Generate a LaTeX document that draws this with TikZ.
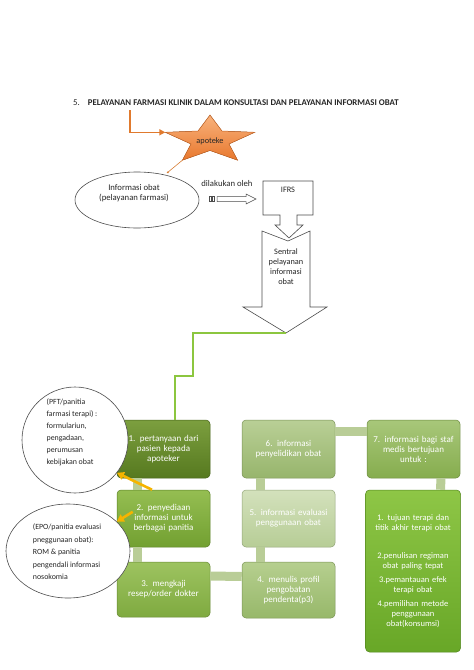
\documentclass[tikz,border=0pt]{standalone}
\usepackage{fontspec}
\setmainfont{Carlito}
\usepackage{tikz}
\usetikzlibrary{calc,arrows.meta,shapes.geometric}
\definecolor{ink}{HTML}{262626}
\definecolor{orangeline}{HTML}{E07A2E}
\definecolor{startop}{HTML}{F8B27C}
\definecolor{starbot}{HTML}{E8782E}
\definecolor{greenline}{HTML}{8CC63F}
\definecolor{yellowarr}{HTML}{F5B400}
\definecolor{barfill}{HTML}{B9CD97}
\definecolor{oneT}{HTML}{7C9F3F}\definecolor{oneB}{HTML}{56791F}
\definecolor{twoT}{HTML}{95BE52}\definecolor{twoB}{HTML}{72A031}
\definecolor{threeT}{HTML}{9DC360}\definecolor{threeB}{HTML}{7FAA40}
\definecolor{fourT}{HTML}{B6CF8F}\definecolor{fourB}{HTML}{97B86A}
\definecolor{fiveT}{HTML}{D3E1BC}\definecolor{fiveB}{HTML}{B7CD96}
\definecolor{sixT}{HTML}{B9CF96}\definecolor{sixB}{HTML}{97B56C}
\definecolor{sevenT}{HTML}{A8C77A}\definecolor{sevenB}{HTML}{86AD4E}
\definecolor{listT}{HTML}{8EC646}\definecolor{listB}{HTML}{68A727}
\tikzset{
  heading/.style={anchor=west, inner sep=0pt, text=ink, font=\fontsize{8.8}{10}\selectfont},
  lab/.style={text=ink, font=\fontsize{8.7}{10}\selectfont},
  outline/.style={draw=black!70, line width=0.6pt, fill=white},
  orangeroute/.style={draw=orangeline, line width=1.5pt, -{Triangle[length=6pt,width=6pt]}},
  thinline/.style={draw=orangeline!70!brown, line width=0.6pt, -{Circle[length=2pt]}},
  starshape/.style={draw=starbot!85!black, line width=0.5pt, top color=startop, bottom color=starbot},
  greenroute/.style={draw=greenline, line width=1.6pt},
  yarrow/.style={draw=yellowarr, line width=2.6pt, -{Triangle[length=7pt,width=8pt]}},
  bar/.style={draw=barfill, line width=9pt},
  gbox/.style args={#1 and #2}{rectangle, rounded corners=4pt, top color=#1, bottom color=#2,
    draw=#2!80!black, line width=0.5pt, text=white, align=center, text width=92pt,
    inner sep=0.5pt, minimum width=93pt, font=\fontsize{9}{10}\selectfont},
  bubble/.style={align=left, text=ink, inner sep=0pt, font=\fontsize{7.9}{12}\selectfont}
}
\begin{document}
\begin{tikzpicture}[x=1pt,y=-1pt]
  \useasboundingbox (0,0) rectangle (474,670);

  % heading
  \node[heading] (title) at (73,103) {5.\hspace{8pt}\textbf{PELAYANAN FARMASI KLINIK DALAM KONSULTASI DAN PELAYANAN INFORMASI OBAT}};

  % star with apoteke
  \coordinate (starW) at (165.3,132.3);   % left point
  \coordinate (starSW) at (182.4,160.2);  % lower left point
  \filldraw[starshape] (210,115) -- (198,131) -- (starW) -- (191,144) -- (starSW) -- (210,150.5)
    -- (237.6,160.2) -- (229,144) -- (254.7,132.3) -- (222,131) -- cycle;
  \node[lab, font=\fontsize{8.3}{10}\selectfont] (apo) at (210,141) {apoteke};
  \coordinate (oStart) at (130,110);
  \draw[orangeroute] (oStart) |- (starW);

  % informasi obat
  \node[outline, ellipse, minimum width=124pt, minimum height=56pt] (info) at (137,200) {};
  \node[lab, align=center] (infotxt) at (134,193.5) {Informasi obat\\(pelayanan farmasi)};
  \coordinate (infoNE) at (167,173);
  \draw[thinline] (starSW) -- (infoNE);

  % dilakukan oleh
  \node[lab] (oleh) at (227,184) {dilakukan oleh};
  \coordinate (hollowT) at (217,199);
  \draw[outline, line width=0.5pt] (209,196.5) rectangle (211,201.5);
  \draw[outline, line width=0.5pt] (212.5,196.5) rectangle (214.5,201.5);
  \draw[outline, line width=0.5pt] (hollowT) ++(0,-2.5) -- ++(29,0) -- ++(0,-2.5) -- ++(10,5)
    -- ++(-10,5) -- ++(0,-2.5) -- ++(-29,0) -- cycle;

  % sentral pelayanan informasi obat
  \draw[outline] (262,231) -- (288,241) -- (310,231) -- (310,307) -- (327,307)
    -- (286,333) coordinate (stip) -- (243,307) -- (262,307) -- cycle;
  \node[lab, align=center, font=\fontsize{8.3}{10}\selectfont] (sentral) at (286,267) {Sentral\\pelayanan\\informasi\\obat};

  % IFRS
  \draw[outline] (263,181) -- (313,181) -- (313,215) -- (297,215) -- (297,225) -- (303,225)
    -- (289,238) -- (275,225) -- (280,225) -- (280,215) -- (263,215) -- cycle;
  \node[lab, font=\fontsize{8.3}{10}\selectfont] (ifrs) at (288,190) {IFRS};

  % process boxes
  \node[gbox={oneT and oneB}, minimum height=58pt] (b1) at (163.5,449) {1. pertanyaan dari\\pasien kepada\\apoteker};
  \node[gbox={twoT and twoB}, minimum height=57pt] (b2) at (163.5,518.5) {2. penyediaan\\informasi untuk\\berbagai panitia};
  \node[gbox={threeT and threeB}, minimum height=55pt] (b3) at (163.5,589.5) {3. mengkaji\\resep/order dokter};
  \node[gbox={fourT and fourB}, minimum height=56pt] (b4) at (288.5,590) {4. menulis profil\\pengobatan\\pendenta(p3)};
  \node[gbox={fiveT and fiveB}, minimum height=57pt] (b5) at (288.5,518.5) {5. informasi evaluasi\\penggunaan obat};
  \node[gbox={sixT and sixB}, minimum height=58pt] (b6) at (288.5,449) {6. informasi\\penyelidikan obat};
  \node[gbox={sevenT and sevenB}, minimum height=58pt] (b7) at (413.5,449) {7. informasi bagi staf\\medis bertujuan\\untuk :};
  \node[gbox={listT and listB}, minimum width=95pt, minimum height=162pt, font=\fontsize{8.5}{10}\selectfont] (b8) at (413,571)
    {1. tujuan terapi dan\\titik akhir terapi obat\\[18pt]2.penulisan regiman\\obat paling tepat\\[4pt]3.pemantauan efek\\terapi obat\\[4pt]4.pemilihan metode\\penggunaan\\obat(konsumsi)};

  % bars between boxes
  \draw[bar] ([xshift=-26.5pt]b1.south) -- ([xshift=-26.5pt]b2.north);
  \draw[bar] ([xshift=-26.5pt]b2.south) -- ([xshift=-26.5pt]b3.north);
  \draw[bar] ([yshift=13.5pt]b3.east) -- ([yshift=13.5pt]b4.west);
  \draw[bar] ([xshift=-28pt]b4.north) -- ([xshift=-28pt]b5.south);
  \draw[bar] ([xshift=-28pt]b5.north) -- ([xshift=-28pt]b6.south);
  \draw[bar] ([yshift=-12pt]b6.north east) -- ([yshift=-12pt]b7.north west);
  \draw[bar] ([xshift=27.5pt]b7.south) -- ([xshift=27.5pt]b8.north);

  % route from sentral down to box 1
  \draw[greenroute] (stip) -- (193,333) -- (193,376) -- (175,376) -- ([xshift=11.5pt]b1.north);

  % side notes
  \node[outline, circle, minimum size=106pt] (pft) at (75,440) {};
  \node[bubble] (pfttxt) at (72,432) {(PFT/panitia\\farmasi terapi) :\\formulariun,\\pengadaan,\\perumusan\\kebijakan obat};
  \node[outline, ellipse, minimum width=124pt, minimum height=94pt] (epo) at (68,551) {};
  \node[bubble, font=\fontsize{7.9}{12.5}\selectfont] (epotxt) at (67,552)
    {(EPO/panitia evaluasi\\pneggunaan obat):\\ROM \& panitia\\pengendali informasi\\nosokomia};

  \draw[yarrow] ([xshift=-11.5pt]b2.north) -- (pft.-38);
  \draw[yarrow] ([xshift=16pt,yshift=-22pt]b2.north west) -- (epo.31);
\end{tikzpicture}
\end{document}
